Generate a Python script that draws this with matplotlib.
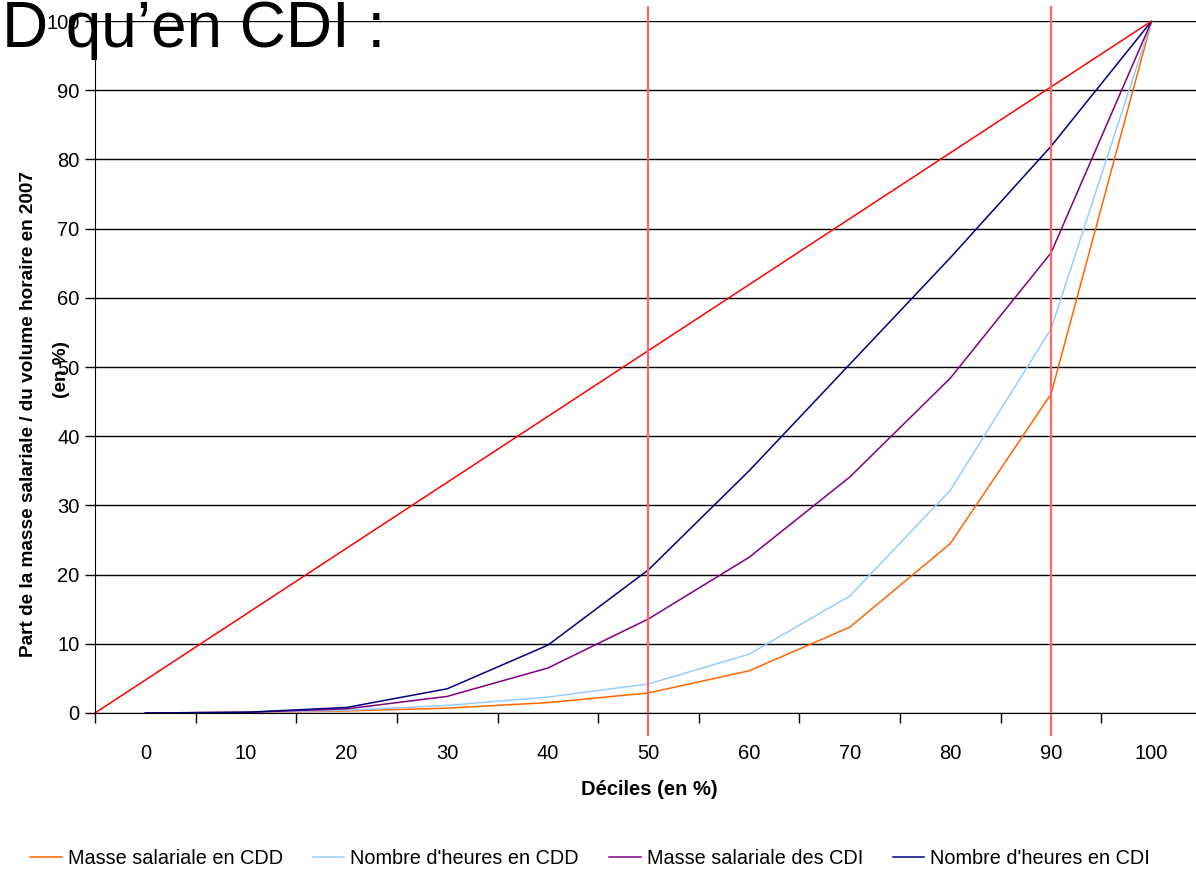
import matplotlib.pyplot as plt
import numpy as np

# données
deciles = [0, 10, 20, 30, 40, 50, 60, 70, 80, 90, 100]
masse_cdd = [0, 0.1, 0.3, 0.7, 1.5, 2.9, 6.1, 12.4, 24.5, 46.1, 100]
heures_cdd = [0, 0.1, 0.4, 1.1, 2.3, 4.2, 8.5, 16.9, 32.2, 55.5, 100]
masse_cdi = [0, 0.1, 0.6, 2.4, 6.5, 13.6, 22.5, 34.1, 48.4, 66.5, 100]
heures_cdi = [0, 0.1, 0.8, 3.5, 9.8, 20.7, 35.0, 50.4, 65.8, 81.9, 100]
yticks = [0, 10, 20, 30, 40, 50, 60, 70, 80, 90, 100]

plt.rcParams['font.family'] = ['Liberation Sans', 'DejaVu Sans']

fig = plt.figure(figsize=(11.96, 8.71), dpi=100)
ax = fig.add_axes([95/1196, 1-713/871, 1107/1196, 692/871])

x = np.arange(len(deciles))
ax.plot(x, masse_cdd, color='#FF6600', lw=1.1, label='Masse salariale en CDD')
ax.plot(x, heures_cdd, color='#99CCFF', lw=1.1, label="Nombre d'heures en CDD")
ax.plot(x, masse_cdi, color='#800080', lw=1.1, label='Masse salariale des CDI')
ax.plot(x, heures_cdi, color='#000080', lw=1.1, label="Nombre d'heures en CDI")

# droite d'égalité et repères
ax.plot([-0.5, 10], [0, 100], color='#FF0000', lw=1.1, clip_on=False)
for d in [50, 90]:
    i = deciles.index(d)
    ax.plot([i, i], [-3.2, 102], color='#FF6666', lw=1.6, clip_on=False)

ax.set_xlim(-0.5, 10.5)
ax.set_ylim(0, 100)
ax.set_yticks(yticks)
ax.yaxis.grid(True, color='black', lw=1)
ax.set_axisbelow(True)
ax.set_xticks(np.arange(-0.5, 11, 1))
ax.set_xticklabels([])
ax.set_xticks(x, minor=True)
ax.set_xticklabels([str(d) for d in deciles], minor=True)
ax.tick_params(axis='x', which='minor', length=0, pad=22, labelsize=14.5)
ax.tick_params(axis='x', which='major', length=7, width=1)
ax.tick_params(axis='y', length=7, width=1, labelsize=14.5, pad=4)
for s in ['top', 'right']:
    ax.spines[s].set_visible(False)

fig.text(29/1196, 1-414/871, 'Part de la masse salariale / du volume horaire en 2007',
         rotation=90, ha='center', va='center', fontsize=13.7, fontweight='bold')
fig.text(62/1196, 1-370/871, '(en %)', rotation=90, ha='center', va='center',
         fontsize=13.7, fontweight='bold')
fig.text(649/1196, 1-789/871, 'Déciles (en %)', ha='center', va='center',
         fontsize=14.5, fontweight='bold')

fig.legend(loc='center', bbox_to_anchor=(590/1196, 1-858/871), ncol=4, frameon=False,
           fontsize=14.3, handlelength=1.6, handletextpad=0.3, columnspacing=1.5)

fig.text(0.002, 1-47/871, 'D qu’en CDI :', fontsize=46, va='baseline', ha='left')

fig.savefig('out.png', dpi=100)
